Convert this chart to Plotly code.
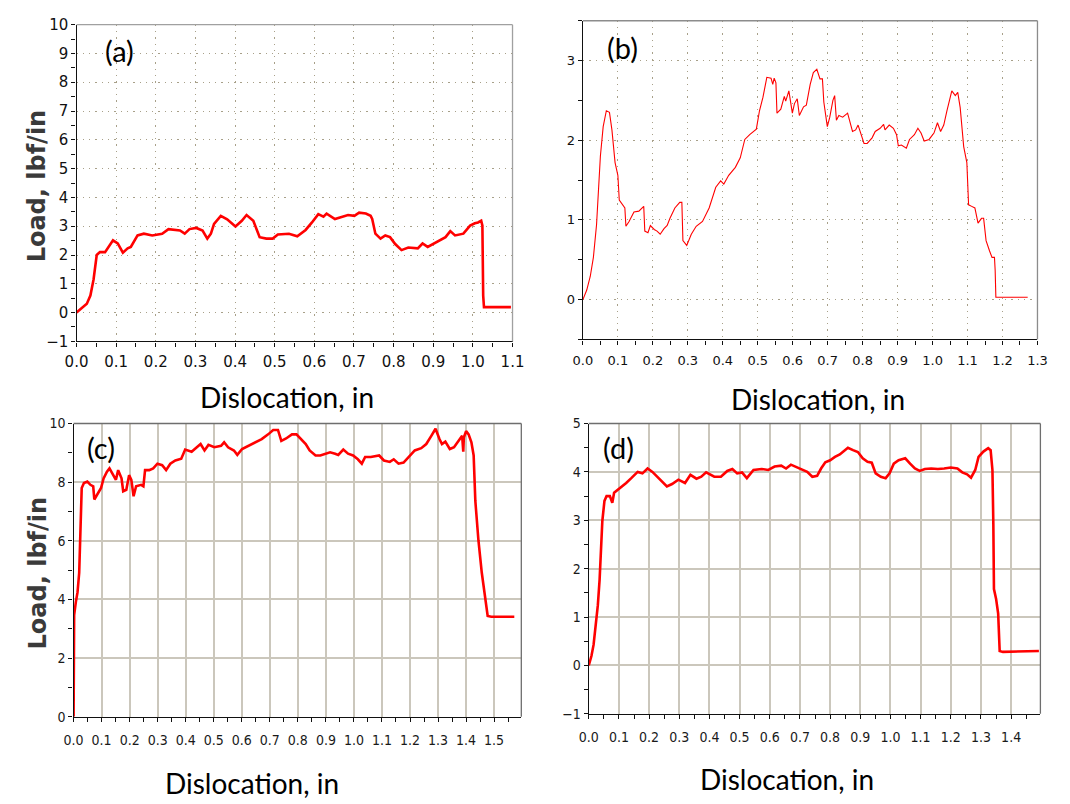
import plotly.graph_objects as go

# ---------------- data ----------------
a_x = [0, 0.026, 0.035, 0.043, 0.051, 0.059, 0.072, 0.084, 0.092, 0.104, 0.117, 0.129, 0.137, 0.154, 0.17,
       0.191, 0.216, 0.232, 0.248, 0.261, 0.273, 0.285, 0.302, 0.318, 0.33, 0.339, 0.347, 0.364, 0.38, 0.401,
       0.417, 0.429, 0.446, 0.462, 0.479, 0.495, 0.508, 0.536, 0.557, 0.578, 0.594, 0.61, 0.623, 0.631, 0.652,
       0.685, 0.701, 0.713, 0.73, 0.742, 0.746, 0.754, 0.767, 0.779, 0.791, 0.804, 0.82, 0.837, 0.861, 0.873,
       0.886, 0.906, 0.931, 0.943, 0.955, 0.976, 0.993, 1.005, 1.013, 1.021, 1.024, 1.026, 1.028, 1.096]
a_y = [0, 0.31, 0.59, 1.15, 2.0, 2.1, 2.1, 2.34, 2.51, 2.4, 2.08, 2.23, 2.28, 2.68, 2.74,
       2.68, 2.74, 2.9, 2.87, 2.85, 2.74, 2.9, 2.94, 2.85, 2.57, 2.74, 3.08, 3.36, 3.24, 2.99,
       3.19, 3.39, 3.19, 2.62, 2.57, 2.57, 2.71, 2.74, 2.65, 2.87, 3.13, 3.42, 3.33, 3.44, 3.25,
       3.39, 3.36, 3.47, 3.44, 3.36, 3.25, 2.74, 2.57, 2.68, 2.62, 2.38, 2.17, 2.26, 2.23, 2.4,
       2.28, 2.42, 2.62, 2.83, 2.68, 2.74, 3.02, 3.1, 3.13, 3.19, 3.02, 0.59, 0.19, 0.19]

b_x = [0, 0.011, 0.021, 0.03, 0.039, 0.044, 0.05, 0.058, 0.067, 0.076, 0.083, 0.092, 0.1, 0.104, 0.114,
       0.12, 0.123, 0.132, 0.146, 0.16, 0.174, 0.177, 0.186, 0.193, 0.204, 0.212, 0.221, 0.232, 0.241, 0.249,
       0.263, 0.277, 0.283, 0.286, 0.297, 0.31, 0.324, 0.342, 0.361, 0.38, 0.394, 0.403, 0.417, 0.436, 0.45,
       0.463, 0.477, 0.496, 0.505, 0.515, 0.526, 0.538, 0.543, 0.547, 0.552, 0.555, 0.566, 0.576, 0.58, 0.589,
       0.599, 0.605, 0.613, 0.619, 0.631, 0.639, 0.65, 0.659, 0.669, 0.678, 0.685, 0.689, 0.699, 0.706, 0.715,
       0.72, 0.725, 0.732, 0.743, 0.757, 0.771, 0.78, 0.787, 0.794, 0.804, 0.813, 0.827, 0.836, 0.85, 0.86,
       0.864, 0.876, 0.888, 0.897, 0.902, 0.911, 0.925, 0.934, 0.948, 0.958, 0.967, 0.976, 0.99, 1.004, 1.014,
       1.023, 1.032, 1.041, 1.055, 1.065, 1.072, 1.079, 1.089, 1.098, 1.103, 1.112, 1.121, 1.13, 1.14, 1.146,
       1.153, 1.163, 1.17, 1.177, 1.179, 1.181, 1.272]
b_y = [0, 0.12, 0.29, 0.53, 0.94, 1.27, 1.8, 2.17, 2.37, 2.35, 2.13, 1.72, 1.56, 1.25, 1.19,
       1.15, 0.92, 0.98, 1.1, 1.11, 1.17, 0.86, 0.84, 0.93, 0.88, 0.86, 0.82, 0.89, 0.93, 1.02,
       1.15, 1.22, 1.22, 0.74, 0.68, 0.82, 0.92, 0.98, 1.15, 1.41, 1.49, 1.45, 1.56, 1.66, 1.78,
       2.01, 2.07, 2.14, 2.37, 2.54, 2.79, 2.78, 2.7, 2.78, 2.72, 2.34, 2.39, 2.55, 2.49, 2.62,
       2.34, 2.46, 2.52, 2.31, 2.42, 2.44, 2.7, 2.85, 2.89, 2.77, 2.77, 2.48, 2.17, 2.29, 2.5,
       2.56, 2.25, 2.31, 2.29, 2.34, 2.11, 2.13, 2.19, 2.09, 1.96, 1.96, 2.03, 2.11, 2.15, 2.2,
       2.13, 2.19, 2.15, 2.07, 1.93, 1.94, 1.9, 2.01, 2.07, 2.15, 2.09, 1.99, 2.01, 2.09, 2.22,
       2.11, 2.19, 2.37, 2.62, 2.56, 2.6, 2.41, 1.92, 1.72, 1.19, 1.17, 1.15, 0.96, 1.02, 1.02,
       0.74, 0.61, 0.53, 0.53, 0.37, 0.03, 0.03]

c_x = [0, 0.002, 0.008, 0.014, 0.02, 0.023, 0.026, 0.029, 0.037, 0.049, 0.06, 0.07, 0.074, 0.086, 0.098,
       0.107, 0.119, 0.128, 0.142, 0.151, 0.159, 0.171, 0.177, 0.188, 0.198, 0.206, 0.214, 0.223, 0.241, 0.249,
       0.255, 0.27, 0.284, 0.299, 0.316, 0.33, 0.345, 0.363, 0.384, 0.398, 0.421, 0.438, 0.453, 0.467, 0.481,
       0.502, 0.526, 0.537, 0.551, 0.572, 0.584, 0.601, 0.624, 0.647, 0.671, 0.694, 0.712, 0.729, 0.741, 0.758,
       0.779, 0.795, 0.81, 0.828, 0.842, 0.863, 0.88, 0.898, 0.915, 0.933, 0.944, 0.962, 0.979, 0.997, 1.014,
       1.028, 1.04, 1.06, 1.09, 1.107, 1.128, 1.142, 1.159, 1.177, 1.194, 1.217, 1.24, 1.258, 1.276, 1.291,
       1.305, 1.314, 1.326, 1.342, 1.357, 1.372, 1.386, 1.39, 1.392, 1.4, 1.409, 1.419, 1.427, 1.433, 1.444,
       1.456, 1.467, 1.477, 1.49, 1.572]
c_y = [0, 3.47, 3.91, 4.24, 4.91, 5.8, 7.24, 7.8, 7.97, 8.02, 7.91, 7.86, 7.41, 7.63, 7.8,
       8.13, 8.36, 8.47, 8.24, 8.08, 8.41, 8.13, 7.69, 7.74, 8.24, 8.08, 7.52, 7.86, 7.91, 7.86,
       8.41, 8.41, 8.47, 8.63, 8.58, 8.41, 8.63, 8.74, 8.8, 9.11, 9.04, 9.19, 9.3, 9.08, 9.27,
       9.19, 9.24, 9.36, 9.19, 9.08, 8.93, 9.13, 9.24, 9.36, 9.47, 9.63, 9.78, 9.78, 9.41, 9.49,
       9.63, 9.63, 9.49, 9.3, 9.08, 8.91, 8.91, 8.97, 9.02, 8.97, 8.93, 9.11, 8.97, 8.91, 8.78,
       8.63, 8.86, 8.86, 8.91, 8.74, 8.69, 8.78, 8.63, 8.67, 8.86, 9.08, 9.16, 9.3, 9.58, 9.82,
       9.47, 9.3, 9.38, 9.13, 9.19, 9.41, 9.58, 9.04, 9.52, 9.74, 9.63, 9.36, 8.91, 7.36, 6.02,
       4.91, 4.19, 3.44, 3.41, 3.41]

d_x = [0, 0.009, 0.016, 0.024, 0.03, 0.036, 0.041, 0.045, 0.052, 0.059, 0.07, 0.078, 0.084, 0.097, 0.11,
       0.124, 0.141, 0.162, 0.178, 0.195, 0.211, 0.227, 0.243, 0.259, 0.276, 0.297, 0.319, 0.337, 0.357, 0.373,
       0.389, 0.416, 0.438, 0.459, 0.476, 0.492, 0.508, 0.524, 0.546, 0.573, 0.595, 0.616, 0.638, 0.654, 0.67,
       0.692, 0.708, 0.724, 0.741, 0.757, 0.77, 0.784, 0.8, 0.816, 0.832, 0.849, 0.859, 0.876, 0.892, 0.908,
       0.924, 0.938, 0.951, 0.968, 0.984, 0.997, 1.011, 1.027, 1.049, 1.065, 1.081, 1.097, 1.114, 1.135, 1.157,
       1.178, 1.2, 1.222, 1.238, 1.254, 1.267, 1.281, 1.292, 1.308, 1.324, 1.332, 1.338, 1.341, 1.343, 1.35,
       1.357, 1.362, 1.373, 1.492]
d_y = [0, 0.2, 0.43, 0.84, 1.24, 1.78, 2.45, 2.99, 3.4, 3.5, 3.5, 3.36, 3.57, 3.63, 3.7,
       3.77, 3.87, 4.0, 3.97, 4.07, 4.0, 3.9, 3.8, 3.7, 3.75, 3.84, 3.77, 3.94, 3.86, 3.9,
       3.99, 3.9, 3.9, 4.02, 4.06, 3.97, 3.99, 3.87, 4.04, 4.06, 4.04, 4.11, 4.13, 4.07, 4.15,
       4.09, 4.04, 4.0, 3.9, 3.92, 4.07, 4.2, 4.24, 4.31, 4.36, 4.45, 4.5, 4.45, 4.41, 4.28,
       4.21, 4.19, 3.97, 3.9, 3.87, 3.97, 4.17, 4.24, 4.28, 4.17, 4.07, 4.02, 4.06, 4.07, 4.06,
       4.07, 4.09, 4.07, 3.99, 3.95, 3.88, 4.04, 4.31, 4.42, 4.49, 4.45, 4.04, 2.93, 1.58, 1.38,
       1.07, 0.3, 0.28, 0.3]

panel_labels = ["(a)", "(b)", "(c)", "(d)"]
x_title = "Dislocation, in"
y_title = "Load, lbf/in"

W, H = 1070, 804

def dx(px0, px1):
    return [px0 / W, px1 / W]

def dy(top, bottom):
    return [1 - bottom / H, 1 - top / H]

fig = go.Figure()
RED = "#ff0000"
fig.add_trace(go.Scatter(x=a_x, y=a_y, mode="lines", line=dict(color=RED, width=2.6), xaxis="x", yaxis="y"))
fig.add_trace(go.Scatter(x=b_x, y=b_y, mode="lines", line=dict(color=RED, width=1.1), xaxis="x2", yaxis="y2"))
fig.add_trace(go.Scatter(x=c_x, y=c_y, mode="lines", line=dict(color=RED, width=2.6), xaxis="x3", yaxis="y3"))
fig.add_trace(go.Scatter(x=d_x, y=d_y, mode="lines", line=dict(color=RED, width=2.6), xaxis="x4", yaxis="y4"))

dot_grid = "#a8a089"
dot_dash = "1.3px,5px"
solid_grid = "#cbc7bc"
font_a = dict(family="DejaVu Sans", size=15, color="#111111")
font_b = dict(family="DejaVu Sans", size=13, color="#111111")
font_cd = dict(family="DejaVu Sans Condensed, Liberation Sans Narrow, Liberation Sans, sans-serif",
               size=14, color="#1a1a1a")

def xax(domain, rng, anchor, font, grid, dash, standoff, mdt=0.05):
    return dict(domain=domain, range=rng, anchor=anchor, dtick=0.1, tick0=0, tickformat=".1f",
                showline=True, linecolor="#111111", linewidth=1.3, ticks="outside", ticklen=4,
                tickcolor="#111111", tickwidth=1, tickfont=font, showgrid=True, gridcolor=grid,
                gridwidth=1.5 if dash == "solid" else 1.3, griddash=dash, zeroline=False,
                ticklabelstandoff=standoff,
                minor=dict(dtick=mdt, ticks="outside", ticklen=4, tickcolor="#111111", showgrid=False))

def yax(domain, rng, anchor, dt, mdt, font, grid, dash):
    return dict(domain=domain, range=rng, anchor=anchor, dtick=dt, tick0=0,
                showline=True, linecolor="#111111", linewidth=1.3, ticks="outside", ticklen=4,
                tickcolor="#111111", tickwidth=1, tickfont=font, showgrid=True, gridcolor=grid,
                gridwidth=1.5 if dash == "solid" else 1.3, griddash=dash, zeroline=False,
                ticklabelstandoff=0,
                minor=dict(dtick=mdt, ticks="outside", ticklen=4, tickcolor="#111111", showgrid=False))

fig.update_layout(
    width=W, height=H, margin=dict(l=0, r=0, t=0, b=0),
    paper_bgcolor="white", plot_bgcolor="white", showlegend=False,
    xaxis=xax(dx(66, 512), [0, 1.1], "y", font_a, dot_grid, dot_dash, 2),
    yaxis=yax(dy(16, 340), [-1, 10], "x", 1, 0.5, font_a, dot_grid, dot_dash),
    xaxis2=xax(dx(584, 1049), [0, 1.3], "y2", font_b, dot_grid, dot_dash, 5),
    yaxis2=yax(dy(12, 338), [-0.5, 3.5], "x2", 1, 0.5, font_b, dot_grid, dot_dash),
    xaxis3=xax(dx(63, 521), [0, 1.597], "y3", font_cd, solid_grid, "solid", 6),
    yaxis3=yax(dy(424, 724), [0, 10], "x3", 2, 1, font_cd, solid_grid, "solid"),
    xaxis4=xax(dx(590, 1052), [0, 1.497], "y4", font_cd, solid_grid, "solid", 6),
    yaxis4=yax(dy(424, 721), [-1, 5], "x4", 1, 0.5, font_cd, solid_grid, "solid"),
)

# frames on top/right
for xa, ya, col in [("x", "y", "#a0a0a0"), ("x2", "y2", "#8c8c8c"), ("x3", "y3", "#6e6e6e"), ("x4", "y4", "#6e6e6e")]:
    fig.add_shape(type="line", xref=f"{xa} domain", yref=f"{ya} domain", x0=0, x1=1, y0=1, y1=1,
                  line=dict(color=col, width=1.3))
    fig.add_shape(type="line", xref=f"{xa} domain", yref=f"{ya} domain", x0=1, x1=1, y0=0, y1=1,
                  line=dict(color=col, width=1.3))

def ann(text, px, py, size, family="Lato", color="black", angle=0, bold=False):
    t = f"<b>{text}</b>" if bold else text
    fig.add_annotation(text=t, x=px / W, y=1 - py / H, xref="paper", yref="paper",
                       xanchor="center", yanchor="middle", showarrow=False, textangle=angle,
                       font=dict(family=family, size=size, color=color))

# panel labels
ann(panel_labels[0], 110, 42, 29)
ann(panel_labels[1], 624, 39, 29)
ann(panel_labels[2], 91, 449, 29)
ann(panel_labels[3], 620, 449, 29)

# x titles
ann(x_title, 281, 397, 28)
ann(x_title, 824, 399, 28)
ann(x_title, 245, 792, 28)
ann(x_title, 793, 788, 28)

# y titles
ann(y_title, 26, 181, 24, family="DejaVu Sans", color="#3a3a3a", angle=-90, bold=True)
ann(y_title, 27, 577, 24, family="DejaVu Sans", color="#3a3a3a", angle=-90, bold=True)

fig.write_html("out.html", config={"displayModeBar": False},
               post_script="document.body.style.margin='0';")
